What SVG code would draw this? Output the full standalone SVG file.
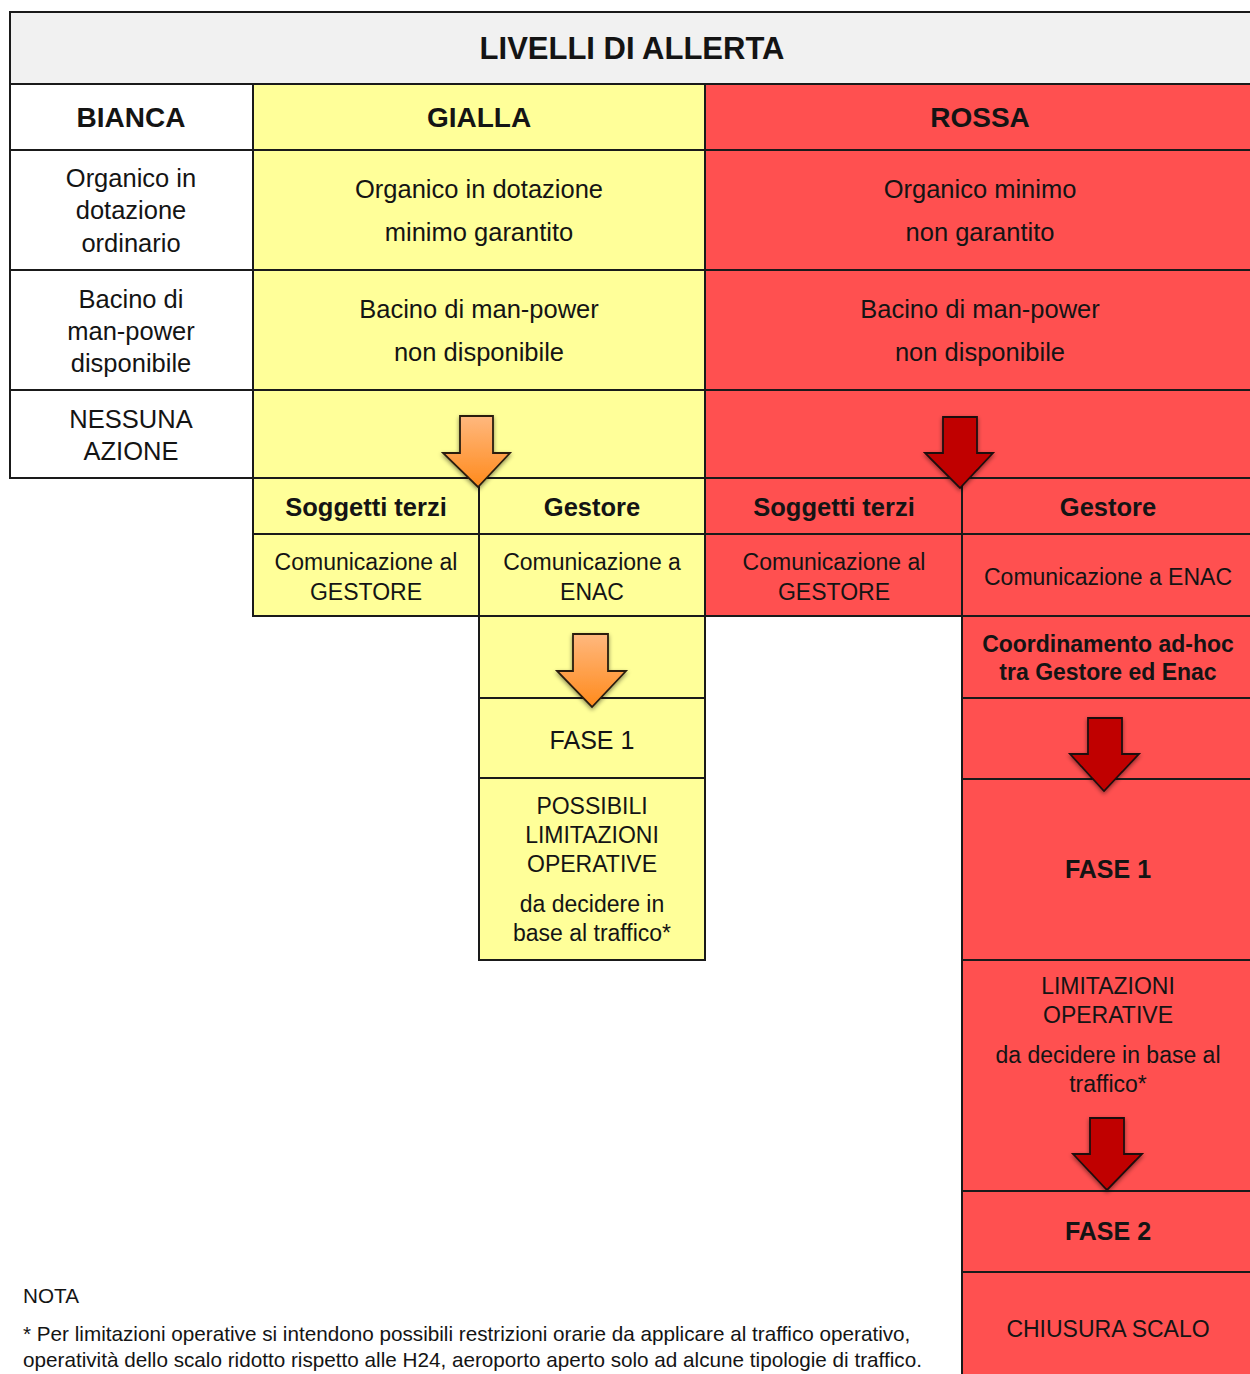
<svg xmlns="http://www.w3.org/2000/svg" width="1250" height="1374" viewBox="0 0 1250 1374">
<style>
  .cell { stroke: #1a1a1a; stroke-width: 2; }
  .grey { fill: #f1f1f1; }
  .white { fill: #ffffff; }
  .yel { fill: #ffff99; }
  .red { fill: #ff5050; }
  text { font-family: "Liberation Sans", Arial, sans-serif; fill: #141414; text-anchor: middle; }
  .title { font-size: 31px; font-weight: bold; }
  .hdr { font-size: 28px; font-weight: bold; }
  .big { font-size: 25.5px; }
  .sub { font-size: 25.5px; font-weight: bold; }
  .txt { font-size: 23px; }
  .txtb { font-size: 23px; font-weight: bold; }
  .fase { font-size: 25px; }
  .faseb { font-size: 25px; font-weight: bold; }
  .note { font-size: 20.7px; text-anchor: start; }
  .arrO { fill: url(#gO); stroke: #2a1d10; stroke-width: 1.8; stroke-linejoin: miter; filter: url(#sh); }
  .arrR { fill: #c00000; stroke: #1e0a0a; stroke-width: 1.8; stroke-linejoin: miter; filter: url(#sh); }
</style>
<defs>
  <linearGradient id="gO" x1="0" y1="0" x2="0" y2="1">
    <stop offset="0" stop-color="#ffb87e"/>
    <stop offset="1" stop-color="#ff8a1c"/>
  </linearGradient>
  <filter id="sh" x="-30%" y="-30%" width="160%" height="160%">
    <feDropShadow dx="0" dy="2" stdDeviation="2" flood-color="#000" flood-opacity="0.45"/>
  </filter>
</defs>

<rect x="0" y="0" width="1250" height="1374" fill="#ffffff"/>

<g id="title">
  <rect class="cell grey" x="10" y="12" width="1250" height="72"/>
  <text class="title" x="632" y="59">LIVELLI DI ALLERTA</text>
</g>

<g id="bianca">
  <rect class="cell white" x="10" y="84" width="243" height="66"/>
  <text class="hdr" x="131" y="127">BIANCA</text>
  <rect class="cell white" x="10" y="150" width="243" height="120"/>
  <text class="big" x="131" y="187">Organico in</text>
  <text class="big" x="131" y="219">dotazione</text>
  <text class="big" x="131" y="252">ordinario</text>
  <rect class="cell white" x="10" y="270" width="243" height="120"/>
  <text class="big" x="131" y="308">Bacino di</text>
  <text class="big" x="131" y="340">man-power</text>
  <text class="big" x="131" y="372">disponibile</text>
  <rect class="cell white" x="10" y="390" width="243" height="88"/>
  <text class="big" x="131" y="428">NESSUNA</text>
  <text class="big" x="131" y="460">AZIONE</text>
</g>

<g id="gialla">
  <rect class="cell yel" x="253" y="84" width="452" height="66"/>
  <text class="hdr" x="479" y="127">GIALLA</text>
  <rect class="cell yel" x="253" y="150" width="452" height="120"/>
  <text class="big" x="479" y="198">Organico in dotazione</text>
  <text class="big" x="479" y="241">minimo garantito</text>
  <rect class="cell yel" x="253" y="270" width="452" height="120"/>
  <text class="big" x="479" y="318">Bacino di man-power</text>
  <text class="big" x="479" y="361">non disponibile</text>
  <rect class="cell yel" x="253" y="390" width="452" height="88"/>
</g>

<g id="gialla-terzi">
  <rect class="cell yel" x="253" y="478" width="226" height="56"/>
  <text class="sub" x="366" y="516">Soggetti terzi</text>
  <rect class="cell yel" x="253" y="534" width="226" height="82"/>
  <text class="txt" x="366" y="570">Comunicazione al</text>
  <text class="txt" x="366" y="600">GESTORE</text>
</g>

<g id="gialla-gestore">
  <rect class="cell yel" x="479" y="478" width="226" height="56"/>
  <text class="sub" x="592" y="516">Gestore</text>
  <rect class="cell yel" x="479" y="534" width="226" height="82"/>
  <text class="txt" x="592" y="570">Comunicazione a</text>
  <text class="txt" x="592" y="600">ENAC</text>
  <rect class="cell yel" x="479" y="616" width="226" height="82"/>
  <rect class="cell yel" x="479" y="698" width="226" height="80"/>
  <text class="fase" x="592" y="749">FASE 1</text>
  <rect class="cell yel" x="479" y="778" width="226" height="182"/>
  <text class="txt" x="592" y="814">POSSIBILI</text>
  <text class="txt" x="592" y="843">LIMITAZIONI</text>
  <text class="txt" x="592" y="872">OPERATIVE</text>
  <text class="txt" x="592" y="912">da decidere in</text>
  <text class="txt" x="592" y="941">base al traffico*</text>
</g>

<g id="rossa">
  <rect class="cell red" x="705" y="84" width="555" height="66"/>
  <text class="hdr" x="980" y="127">ROSSA</text>
  <rect class="cell red" x="705" y="150" width="555" height="120"/>
  <text class="big" x="980" y="198">Organico minimo</text>
  <text class="big" x="980" y="241">non garantito</text>
  <rect class="cell red" x="705" y="270" width="555" height="120"/>
  <text class="big" x="980" y="318">Bacino di man-power</text>
  <text class="big" x="980" y="361">non disponibile</text>
  <rect class="cell red" x="705" y="390" width="555" height="88"/>
</g>

<g id="rossa-terzi">
  <rect class="cell red" x="705" y="478" width="257" height="56"/>
  <text class="sub" x="834" y="516">Soggetti terzi</text>
  <rect class="cell red" x="705" y="534" width="257" height="82"/>
  <text class="txt" x="834" y="570">Comunicazione al</text>
  <text class="txt" x="834" y="600">GESTORE</text>
</g>

<g id="rossa-gestore">
  <rect class="cell red" x="962" y="478" width="300" height="56"/>
  <text class="sub" x="1108" y="516">Gestore</text>
  <rect class="cell red" x="962" y="534" width="300" height="82"/>
  <text class="txt" x="1108" y="585">Comunicazione a ENAC</text>
  <rect class="cell red" x="962" y="616" width="300" height="82"/>
  <text class="txtb" x="1108" y="652">Coordinamento ad-hoc</text>
  <text class="txtb" x="1108" y="680">tra Gestore ed Enac</text>
  <rect class="cell red" x="962" y="698" width="300" height="81"/>
  <rect class="cell red" x="962" y="779" width="300" height="181"/>
  <text class="faseb" x="1108" y="878">FASE 1</text>
  <rect class="cell red" x="962" y="960" width="300" height="231"/>
  <text class="txt" x="1108" y="994">LIMITAZIONI</text>
  <text class="txt" x="1108" y="1023">OPERATIVE</text>
  <text class="txt" x="1108" y="1063">da decidere in base al</text>
  <text class="txt" x="1108" y="1092">traffico*</text>
  <rect class="cell red" x="962" y="1191" width="300" height="81"/>
  <text class="faseb" x="1108" y="1240">FASE 2</text>
  <rect class="cell red" x="962" y="1272" width="300" height="120"/>
  <text class="txt" x="1108" y="1337">CHIUSURA SCALO</text>
</g>

<g id="connectors">
  <path class="arrO" d="M460,416 H493 V453 H510 L478,487 L443,453 H460 Z"/>
  <path class="arrR" d="M943,417 H977 V453 H993 L960,488 L925,453 H943 Z"/>
  <path class="arrO" d="M573,634 H608 V671 H626 L592,707 L557,671 H573 Z"/>
  <path class="arrR" d="M1088,718 H1122 V754 H1139 L1104,791 L1070,754 H1088 Z"/>
  <path class="arrR" d="M1090,1118 H1124 V1154 H1142 L1107,1190 L1073,1154 H1090 Z"/>
</g>

<g id="nota">
  <text class="note" x="23" y="1303">NOTA</text>
  <text class="note" x="23" y="1341">* Per limitazioni operative si intendono possibili restrizioni orarie da applicare al traffico operativo,</text>
  <text class="note" x="23" y="1367">operatività dello scalo ridotto rispetto alle H24, aeroporto aperto solo ad alcune tipologie di traffico.</text>
</g>
</svg>
